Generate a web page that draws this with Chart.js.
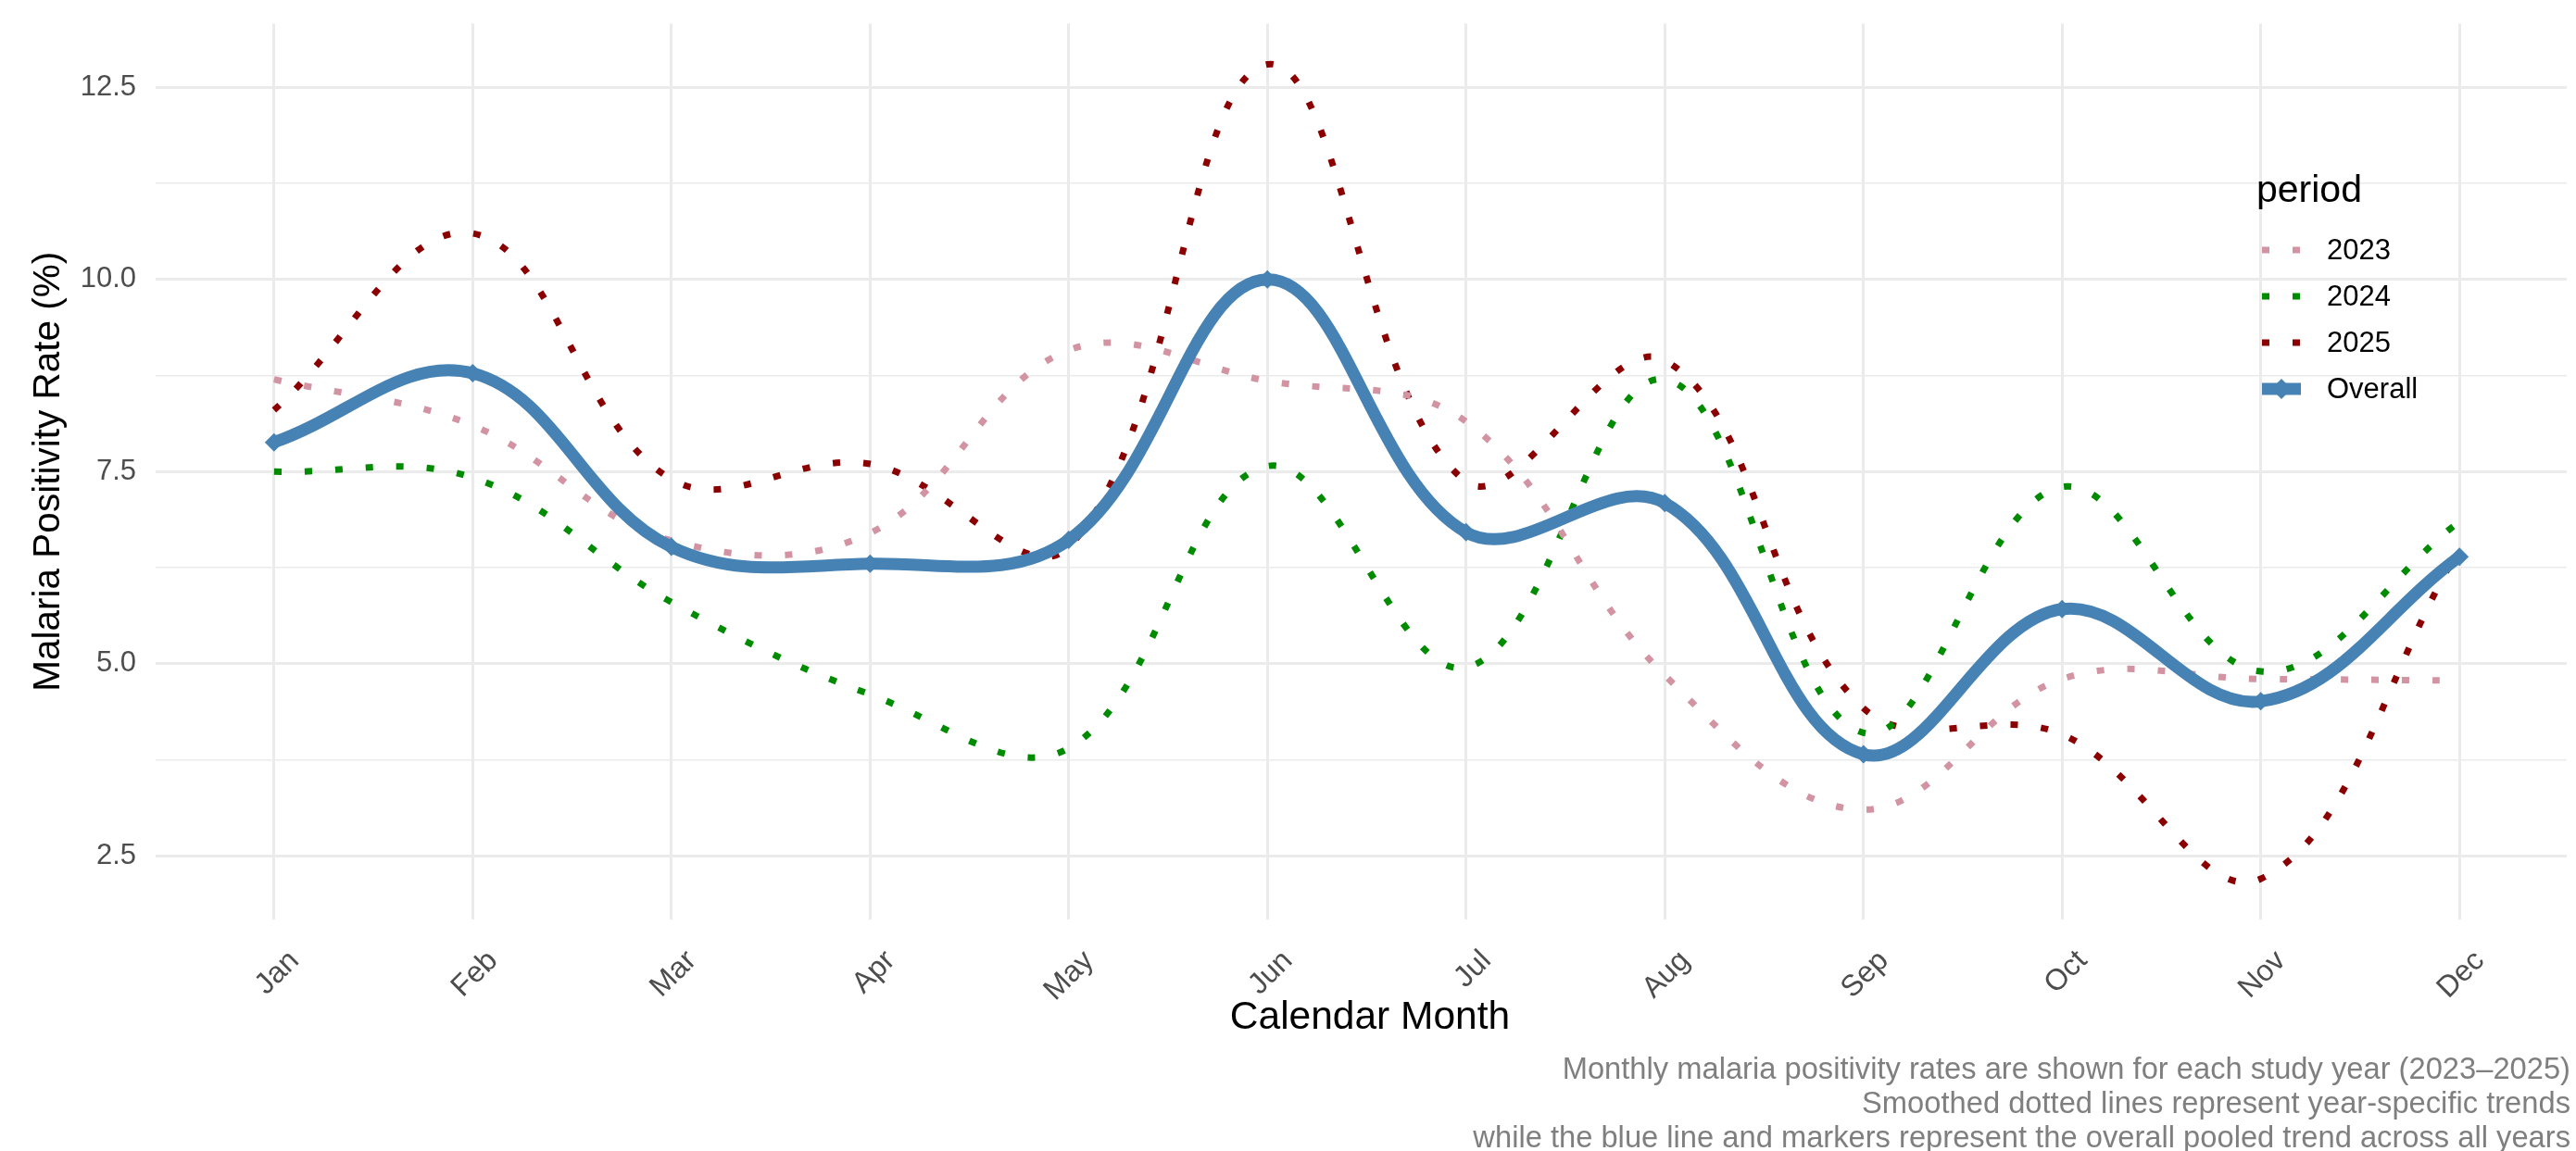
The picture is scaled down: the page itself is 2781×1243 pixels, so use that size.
<!DOCTYPE html>
<html>
<head>
<meta charset="utf-8">
<script src="https://cdn.jsdelivr.net/npm/chart.js@4.4.1/dist/chart.umd.min.js"></script>
<style>
  html, body { margin: 0; padding: 0; background: #fff; }
  canvas { display: block; }
</style>
</head>
<body>
<canvas id="chart" width="2781" height="1243"></canvas>
<script>
// monthly values
const months = ['Jan', 'Feb', 'Mar', 'Apr', 'May', 'Jun', 'Jul', 'Aug', 'Sep', 'Oct', 'Nov', 'Dec'];
const rate2023 = [8.7, 8.1, 6.6, 6.7, 9.08, 8.68, 8.15, 4.85, 3.1, 4.8, 4.8, 4.78];
const rate2024 = [7.5, 7.42, 5.8, 4.6, 3.9, 7.57, 4.95, 8.7, 4.1, 7.3, 4.9, 6.85];
const rate2025 = [8.3, 10.6, 7.4, 7.6, 6.52, 12.8, 7.37, 8.95, 4.42, 4.08, 2.2, 6.5];
const rateOverall = [7.88, 8.78, 6.52, 6.3, 6.61, 10.0, 6.71, 7.09, 3.82, 5.71, 4.51, 6.39];
const yTicks = [2.5, 5.0, 7.5, 10.0, 12.5];
const captionLines = [
  'Monthly malaria positivity rates are shown for each study year (2023\u20132025)',
  'Smoothed dotted lines represent year-specific trends',
  'while the blue line and markers represent the overall pooled trend across all years'
];

const FONT = '"Liberation Sans", Arial, sans-serif';
const toPoints = arr => arr.map((v, i) => ({ x: i, y: v }));

const yearLine = (label, data, color) => ({
  label: label,
  data: toPoints(data),
  borderColor: color,
  backgroundColor: color,
  borderWidth: 7,
  borderDash: [8, 25],
  borderCapStyle: 'butt',
  tension: 0.38,
  pointRadius: 0,
  fill: false,
  order: 1
});

const datasets = [
  yearLine('2023', rate2023, 'rgb(210,148,162)'),
  yearLine('2024', rate2024, 'rgb(0,139,0)'),
  yearLine('2025', rate2025, 'rgb(139,0,0)'),
  {
    label: 'Overall',
    data: toPoints(rateOverall),
    borderColor: '#4682B4',
    backgroundColor: '#4682B4',
    borderWidth: 13,
    tension: 0.38,
    pointStyle: 'rectRot',
    pointRadius: 10,
    pointBorderWidth: 0,
    fill: false,
    order: 0
  }
];

// axis titles, legend and caption drawn straight on the canvas
const extras = {
  id: 'extras',
  afterDraw(chart) {
    const ctx = chart.ctx;
    const area = chart.chartArea;
    ctx.save();

    ctx.fillStyle = '#000';
    ctx.textAlign = 'center';
    ctx.textBaseline = 'middle';
    ctx.font = '42.5px ' + FONT;
    ctx.fillText('Calendar Month', 1479, 1099);

    ctx.save();
    ctx.font = '40.5px ' + FONT;
    ctx.translate(53, (area.top + area.bottom) / 2);
    ctx.rotate(-Math.PI / 2);
    ctx.fillText('Malaria Positivity Rate (%)', 0, 0);
    ctx.restore();

    // caption
    ctx.fillStyle = '#7f7f7f';
    ctx.font = '32.7px ' + FONT;
    ctx.textAlign = 'right';
    captionLines.forEach((line, i) => ctx.fillText(line, 2775, 1156 + i * 37));

    // legend
    ctx.fillStyle = '#000';
    ctx.textAlign = 'left';
    ctx.font = '41px ' + FONT;
    ctx.fillText('period', 2436, 207);
    ctx.font = '31px ' + FONT;
    chart.data.datasets.forEach((ds, i) => {
      const y = 270 + i * 50;
      ctx.save();
      ctx.strokeStyle = ds.borderColor;
      ctx.lineWidth = ds.borderWidth;
      ctx.lineCap = 'butt';
      ctx.setLineDash(ds.borderDash || []);
      ctx.beginPath();
      ctx.moveTo(2442, y);
      ctx.lineTo(2484, y);
      ctx.stroke();
      if (ds.pointStyle) {
        ctx.setLineDash([]);
        ctx.fillStyle = ds.backgroundColor;
        ctx.beginPath();
        ctx.moveTo(2463, y - 11);
        ctx.lineTo(2474, y);
        ctx.lineTo(2463, y + 11);
        ctx.lineTo(2452, y);
        ctx.closePath();
        ctx.fill();
      }
      ctx.restore();
      ctx.fillStyle = '#000';
      ctx.fillText(ds.label, 2512, y + 1);
    });

    ctx.restore();
  }
};

new Chart(document.getElementById('chart'), {
  type: 'line',
  data: { datasets: datasets },
  plugins: [extras],
  options: {
    responsive: false,
    animation: false,
    devicePixelRatio: 1,
    layout: { padding: { left: 0, right: 2, top: 25.5, bottom: 0 } },
    plugins: {
      legend: { display: false },
      tooltip: { enabled: false }
    },
    scales: {
      x: {
        type: 'linear',
        min: -0.596,
        max: 11.54,
        afterFit: scale => {
          scale.height = 250;
          scale.paddingLeft = 0;
          scale.paddingRight = 0;
        },
        border: { display: false },
        grid: { color: '#ebebeb', lineWidth: 3, drawTicks: false },
        ticks: {
          stepSize: 1,
          includeBounds: false,
          autoSkip: false,
          minRotation: 45,
          maxRotation: 45,
          padding: 26,
          labelOffset: 22,
          color: '#4d4d4d',
          font: { family: FONT, size: 32 },
          callback: v => months[v] || ''
        }
      },
      y: {
        min: 1.67,
        max: 13.33,
        afterFit: scale => {
          scale.width = 168;
          scale.paddingTop = 0;
          scale.paddingBottom = 0;
        },
        border: { display: false },
        grid: {
          color: '#ebebeb',
          drawTicks: false,
          lineWidth: c => (yTicks.includes(c.tick.value) ? 3 : 1.6)
        },
        ticks: {
          stepSize: 1.25,
          includeBounds: false,
          padding: 21,
          color: '#4d4d4d',
          font: { family: FONT, size: 31 },
          callback: v => (yTicks.includes(v) ? v.toFixed(1) : '')
        }
      }
    }
  }
});
</script>
</body>
</html>
